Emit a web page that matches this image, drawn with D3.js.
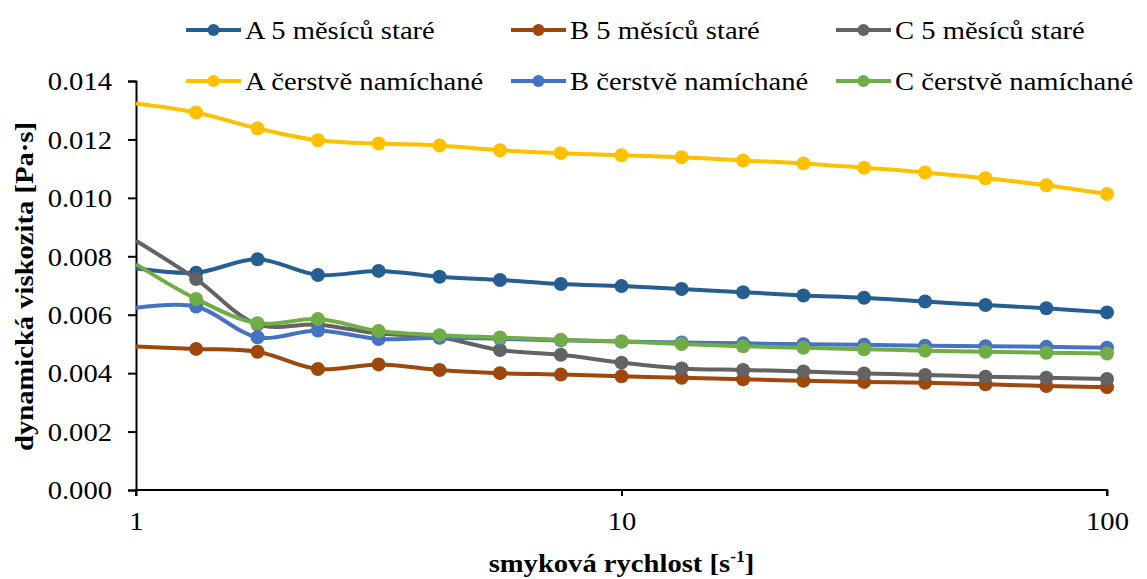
<!DOCTYPE html>
<html>
<head>
<meta charset="utf-8">
<script src="https://cdn.jsdelivr.net/npm/d3@7"></script>
<style>
  body { margin: 0; background: #fff; }
  svg { display: block; }
</style>
</head>
<body>
<svg id="chart" width="1147" height="579" font-family="Liberation Serif"></svg>
<script>
// ---- data ----
const shearRates = [1, 1.33, 1.78, 2.37, 3.16, 4.22, 5.62, 7.5, 10, 13.3, 17.8, 23.7, 31.6, 42.2, 56.2, 75, 100];
const seriesNames = ["A 5 měsíců staré", "B 5 měsíců staré", "C 5 měsíců staré",
                     "A čerstvě namíchané", "B čerstvě namíchané", "C čerstvě namíchané"];
const seriesColors = ["#255E91", "#9E480E", "#636363", "#FFC000", "#4472C4", "#70AD47"];
const a5 = [0.00759, 0.00744, 0.00790, 0.00736, 0.00750, 0.00730, 0.00719, 0.00705, 0.00698, 0.00688, 0.00677, 0.00666, 0.00658, 0.00645, 0.00633, 0.00622, 0.00608];
const b5 = [0.00491, 0.00483, 0.00473, 0.00414, 0.00430, 0.00411, 0.00400, 0.00395, 0.00389, 0.00384, 0.00379, 0.00374, 0.00370, 0.00367, 0.00362, 0.00356, 0.00352];
const c5 = [0.00853, 0.00722, 0.00567, 0.00566, 0.00536, 0.00523, 0.00479, 0.00463, 0.00436, 0.00416, 0.00411, 0.00406, 0.00399, 0.00394, 0.00388, 0.00384, 0.00380];
const aFresh = [0.01323, 0.01292, 0.01238, 0.01197, 0.01186, 0.01179, 0.01163, 0.01153, 0.01146, 0.01139, 0.01128, 0.01118, 0.01103, 0.01087, 0.01067, 0.01043, 0.01013];
const bFresh = [0.00624, 0.00628, 0.00523, 0.00546, 0.00517, 0.00521, 0.00518, 0.00512, 0.00508, 0.00505, 0.00502, 0.00499, 0.00497, 0.00494, 0.00492, 0.00490, 0.00487];
const cFresh = [0.00773, 0.00654, 0.00571, 0.00585, 0.00544, 0.00530, 0.00522, 0.00514, 0.00508, 0.00500, 0.00492, 0.00487, 0.00482, 0.00477, 0.00473, 0.00470, 0.00467];
const seriesValues = [a5, b5, c5, aFresh, bFresh, cFresh];
const yTickValues = [0, 0.002, 0.004, 0.006, 0.008, 0.010, 0.012, 0.014];
const xTickValues = [1, 10, 100];
const xTitle = "smyková rychlost [s";
const xTitleSup = "-1";
const yTitle = "dynamická viskozita [Pa·s]";

// ---- layout ----
const svg = d3.select("#chart");
const plot = { left: 136, right: 1107, top: 81, bottom: 490 };
const FONT = "Liberation Serif";
const FS = 26;
const SX = 1.1; // horizontal stretch of the reference glyphs

const x = d3.scaleLog().domain([1, 100]).range([plot.left, plot.right]);
const y = d3.scaleLinear().domain([0, 0.014]).range([plot.bottom, plot.top]);

// axes
const yAxis = d3.axisLeft(y).tickValues(yTickValues).tickFormat(d3.format(".3f")).tickSize(8);
const gy = svg.append("g").attr("transform", `translate(${plot.left},0)`).call(yAxis)
  .attr("font-family", FONT).attr("font-size", FS);
gy.select(".domain").attr("stroke", "#000").attr("stroke-width", 2);
gy.selectAll(".tick line").attr("stroke", "#000").attr("stroke-width", 2);
gy.selectAll(".tick text")
  .attr("font-family", FONT).attr("font-size", FS).attr("fill", "#000")
  .attr("x", -24 / SX).attr("dy", "0.34em").attr("transform", `scale(${SX},1)`);

const xAxis = d3.axisBottom(x).tickValues(xTickValues).tickFormat(d3.format("d")).tickSize(6);
const gx = svg.append("g").attr("transform", `translate(0,${plot.bottom})`).call(xAxis)
  .attr("font-family", FONT).attr("font-size", FS);
gx.select(".domain").attr("stroke", "#000").attr("stroke-width", 2).attr("d", `M${plot.left},6V0H${plot.right}V6`);
gx.selectAll(".tick line").attr("stroke", "#000").attr("stroke-width", 2);
gx.selectAll(".tick text")
  .attr("font-family", FONT).attr("font-size", FS).attr("fill", "#000")
  .attr("y", 40).attr("dy", 0).attr("transform", `scale(${SX},1)`);

// lines
const line = d3.line().x((d, i) => x(shearRates[i])).y(d => y(d)).curve(d3.curveCatmullRom.alpha(0.5));
seriesValues.forEach((vals, s) => {
  const g = svg.append("g");
  g.append("path").attr("d", line(vals)).attr("fill", "none")
    .attr("stroke", seriesColors[s]).attr("stroke-width", 4).attr("stroke-linejoin", "round");
  g.selectAll("circle").data(vals.slice(1)).join("circle")
    .attr("cx", (d, i) => x(shearRates[i + 1])).attr("cy", d => y(d))
    .attr("r", 7).attr("fill", seriesColors[s]);
});

// legend
const legCols = [186, 511, 836];
const legRows = [30, 81];
seriesNames.forEach((name, s) => {
  const lx = legCols[s % 3], ly = legRows[Math.floor(s / 3)];
  const g = svg.append("g").attr("transform", `translate(${lx},${ly})`);
  g.append("line").attr("x1", 0).attr("x2", 55).attr("y1", 0).attr("y2", 0)
    .attr("stroke", seriesColors[s]).attr("stroke-width", 4);
  g.append("circle").attr("cx", 27.5).attr("cy", 0).attr("r", 6).attr("fill", seriesColors[s]);
  g.append("text").attr("transform", `translate(59,0) scale(${SX},1)`).attr("dy", "0.35em")
    .attr("font-family", FONT).attr("font-size", FS).attr("fill", "#000").text(name);
});

// axis titles
const xt = svg.append("text")
  .attr("transform", `translate(${(plot.left + plot.right) / 2},572) scale(${SX},1)`)
  .attr("text-anchor", "middle").attr("font-family", FONT)
  .attr("font-size", FS).attr("font-weight", "bold").attr("fill", "#000");
xt.append("tspan").text(xTitle);
xt.append("tspan").attr("dy", -10).attr("font-size", 16).text(xTitleSup);
xt.append("tspan").attr("dy", 10).text("]");

svg.append("text")
  .attr("transform", `translate(33,${(plot.top + plot.bottom) / 2 + 1}) rotate(-90) scale(${SX},1)`)
  .attr("text-anchor", "middle").attr("font-family", FONT)
  .attr("font-size", FS).attr("font-weight", "bold").attr("fill", "#000").text(yTitle);
</script>
</body>
</html>
